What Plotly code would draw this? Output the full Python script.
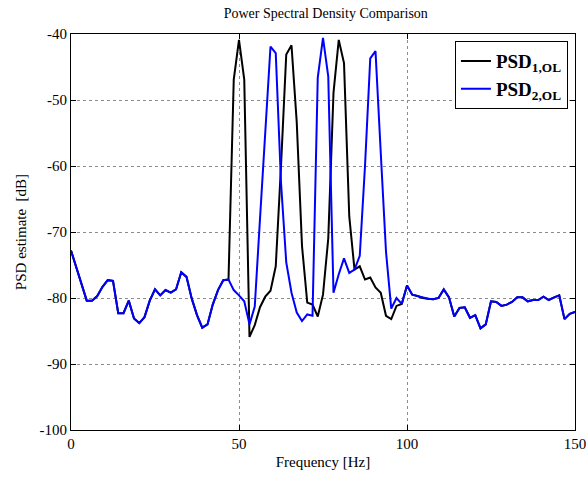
import numpy as np
import plotly.graph_objects as go

# frequency resolution 200 Hz / 128 points
freq = [k * 1.5625 for k in range(97)]

common_low = [-72.8, -75.4, -77.8, -80.4, -80.4, -79.7, -78.3, -77.3, -77.4, -82.3,
              -82.3, -80.4, -83.1, -83.8, -82.9, -80.4, -78.7, -79.6, -78.8, -79.2,
              -78.7, -76.1, -76.8, -80.1, -82.6, -84.5, -84.0, -81.0, -78.8, -77.3,
              -77.2]

psd1_mid = [-46.9, -40.9, -46.9, -85.9, -84.1, -81.4, -79.8, -78.9, -75.2, -60.0,
            -43.1, -41.7, -53.4, -72.1, -80.7, -81.0, -82.8, -79.5, -71.0, -48.9,
            -40.9, -44.4, -67.6, -75.7, -75.2, -77.2, -76.9, -78.4, -79.2, -82.7,
            -83.2, -81.2]

psd2_mid = [-78.8, -79.6, -80.5, -84.0, -81.3, -68.0, -55.0, -41.9, -42.9, -62.5,
            -74.6, -79.2, -82.2, -83.5, -82.5, -82.7, -46.6, -40.6, -46.4, -79.2,
            -76.4, -74.0, -76.2, -75.7, -73.6, -60.0, -43.7, -42.6, -58.0, -73.0,
            -81.6, -80.0]

common_high = [-80.9, -78.1, -79.5, -79.7, -80.0, -80.1, -80.2, -80.0, -78.7, -79.9,
               -82.8, -81.5, -81.4, -83.0, -82.6, -84.6, -84.0, -80.5, -80.6, -81.2,
               -81.0, -80.6, -79.9, -79.9, -80.5, -80.3, -80.3, -79.8, -80.3, -79.9,
               -79.6, -83.2, -82.4, -82.1]

psd1 = common_low + psd1_mid + common_high
psd2 = common_low + psd2_mid + common_high

x_ticks = [0, 50, 100, 150]
x_tick_labels = ["0", "50", "100", "150"]
y_ticks = [-100, -90, -80, -70, -60, -50, -40]
y_tick_labels = ["-100", "-90", "-80", "-70", "-60", "-50", "-40"]

fig = go.Figure()
fig.add_trace(go.Scatter(x=freq, y=psd1, mode="lines",
                         line=dict(color="black", width=2),
                         name="<b>PSD<sub>1,OL</sub></b>"))
fig.add_trace(go.Scatter(x=freq, y=psd2, mode="lines",
                         line=dict(color="#0000ff", width=2),
                         name="<b>PSD<sub>2,OL</sub></b>"))

serif = "Liberation Serif"
axis_common = dict(showline=True, mirror="allticks", linecolor="black", linewidth=1,
                   ticks="inside", ticklen=5, tickcolor="black",
                   showgrid=True, gridcolor="#8c8c8c", griddash="dot", gridwidth=1,
                   zeroline=False, automargin=False,
                   tickfont=dict(family=serif, size=15, color="black"))

fig.update_layout(
    width=587, height=477,
    margin=dict(l=71, r=12, t=34, b=47),
    paper_bgcolor="white", plot_bgcolor="white",
    title=dict(text="Power Spectral Density Comparison", x=0.555, xanchor="center",
               y=0.982, yanchor="top",
               font=dict(family=serif, size=14, color="black")),
    xaxis=dict(range=[0, 150], tickvals=x_ticks, ticktext=x_tick_labels,
               title=dict(text="Frequency [Hz]", standoff=5,
                          font=dict(family=serif, size=15, color="black")),
               **axis_common),
    yaxis=dict(range=[-100, -40], tickvals=y_ticks, ticktext=y_tick_labels,
               title=dict(text="PSD estimate  [dB]", standoff=9,
                          font=dict(family=serif, size=15, color="black")),
               **axis_common),
    legend=dict(x=0.986, y=0.982, xanchor="right", yanchor="top",
                bgcolor="white", bordercolor="black", borderwidth=1,
                font=dict(family=serif, size=19, color="black"),
                tracegroupgap=0),
    showlegend=True,
)

fig.write_html("out.html", config={"displayModeBar": False},
               post_script="document.body.style.margin='0';document.body.style.padding='0';")
